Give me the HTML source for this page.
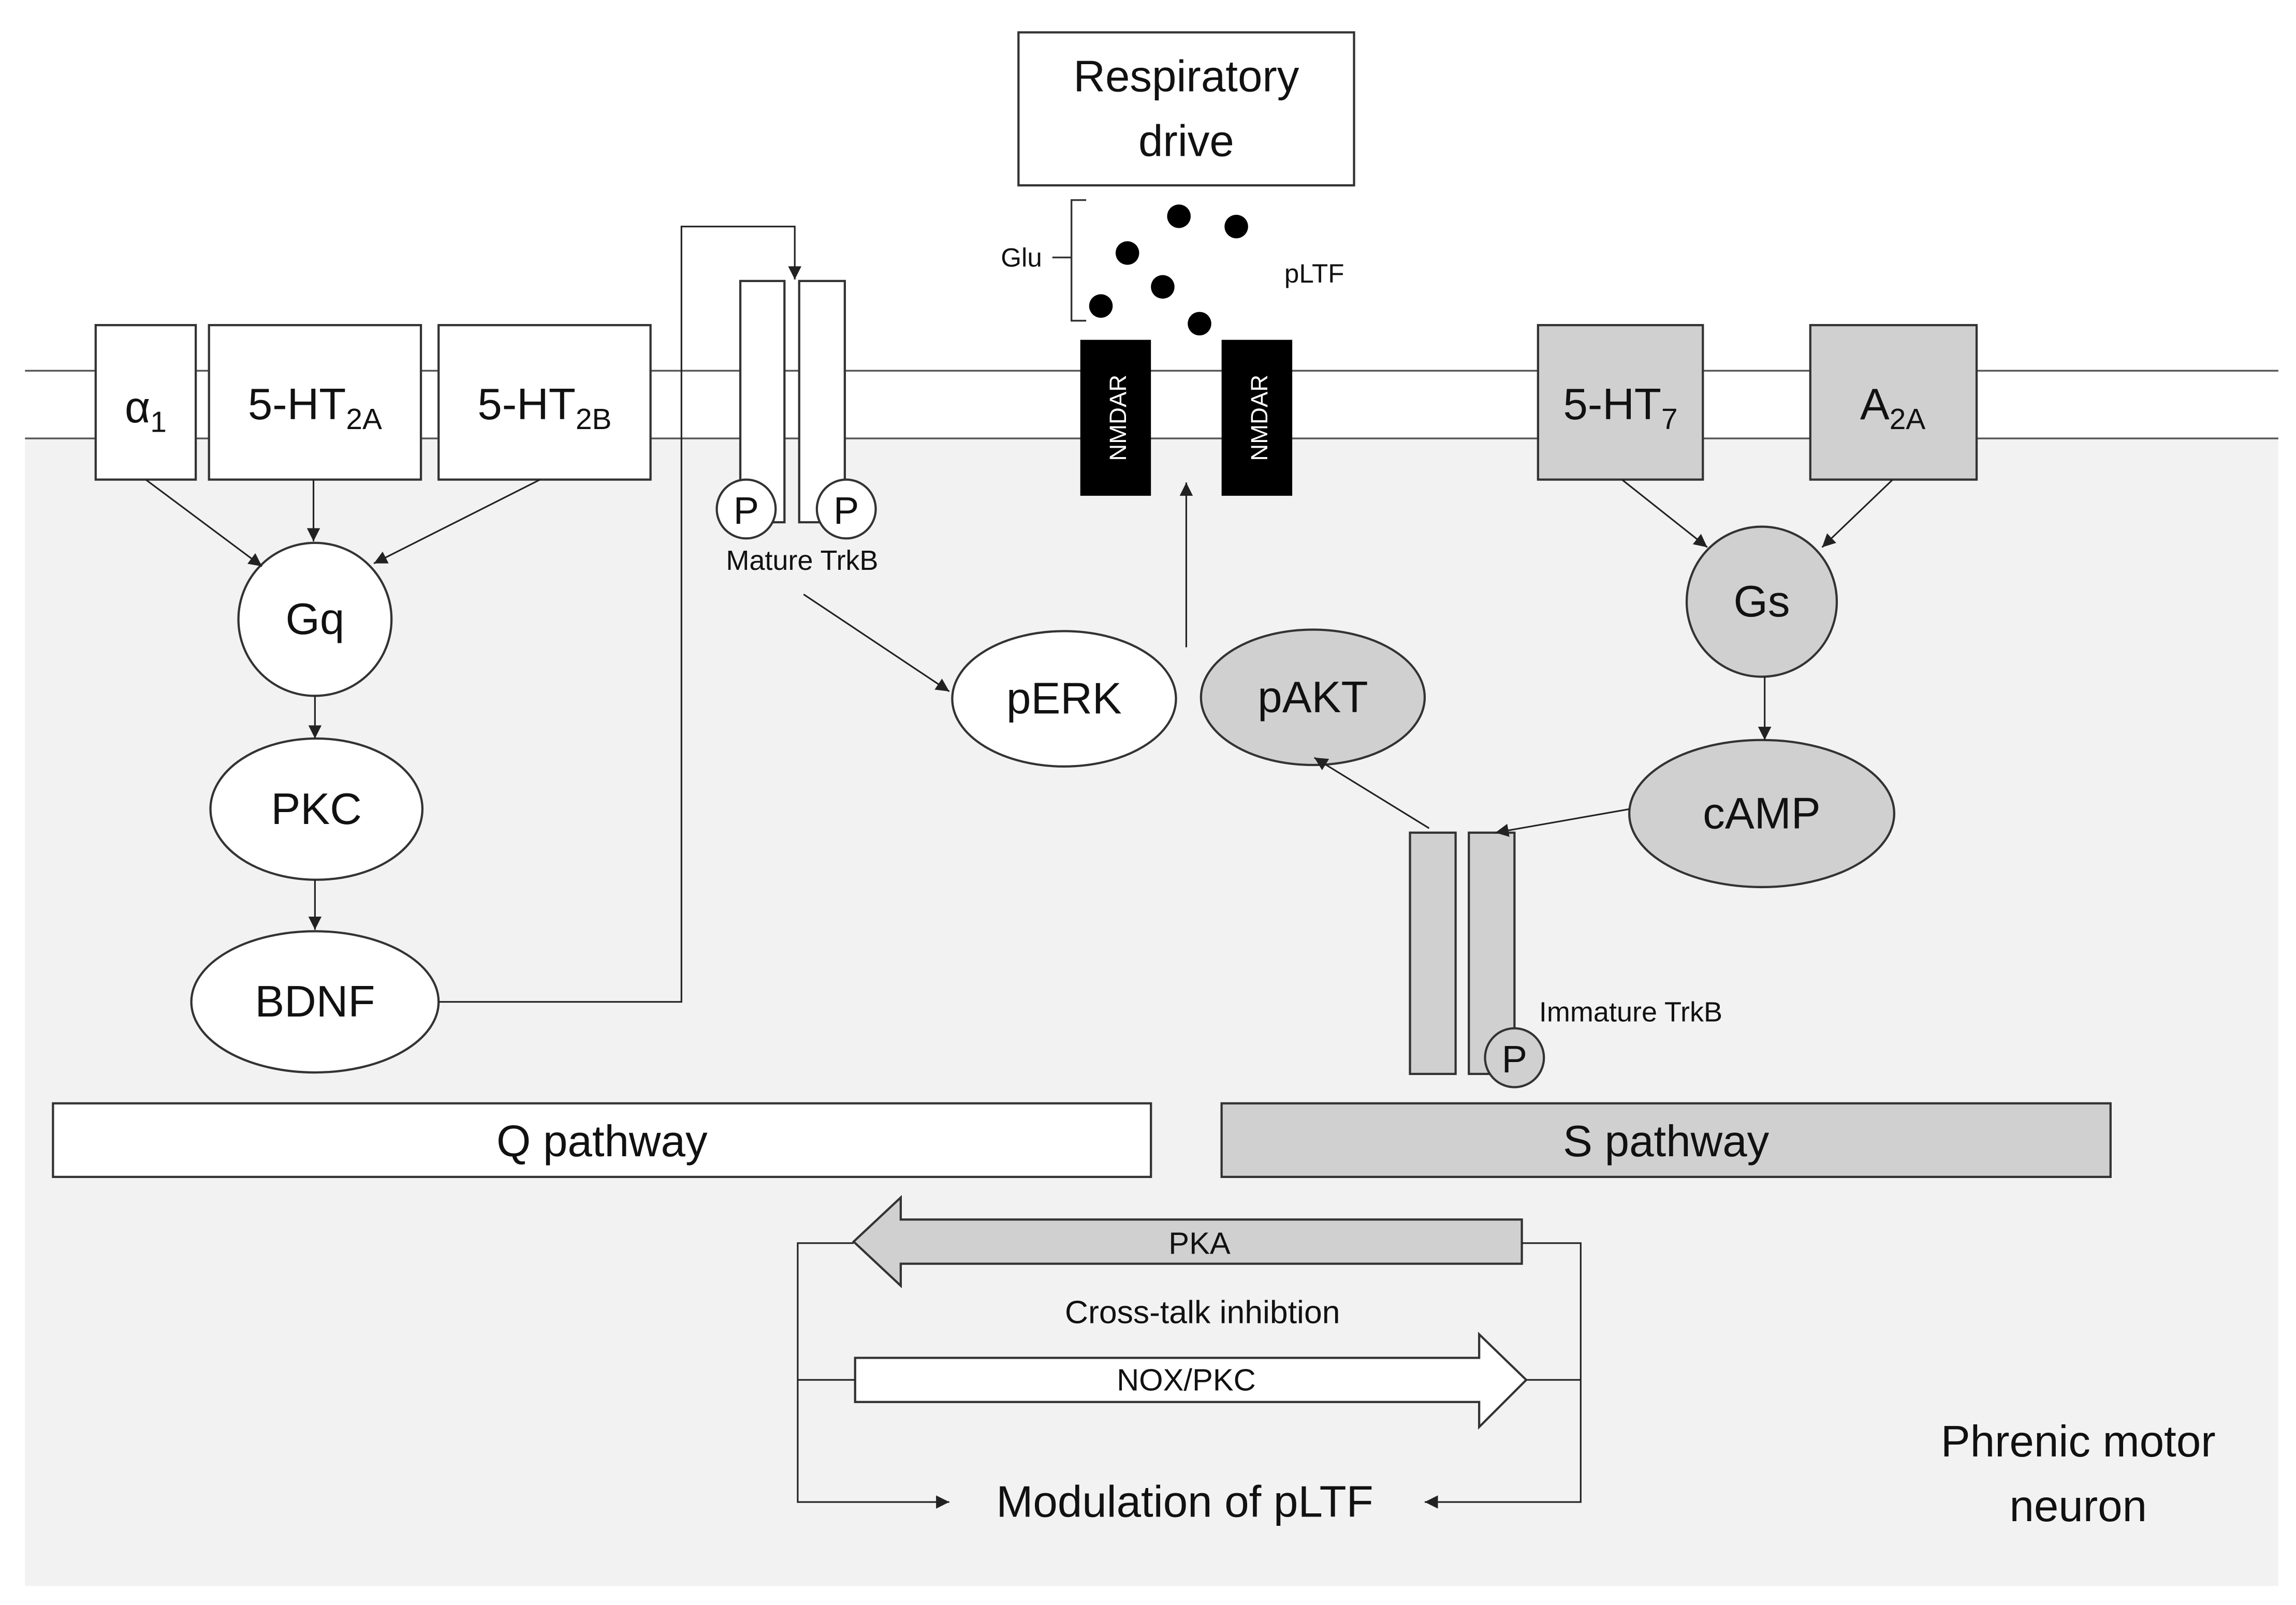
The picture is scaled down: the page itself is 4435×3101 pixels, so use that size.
<!DOCTYPE html>
<html><head><meta charset="utf-8"><style>html,body{margin:0;padding:0;background:#fff}svg{display:block}</style></head>
<body>
<svg width="4435" height="3101" viewBox="0 0 1560 1091" preserveAspectRatio="none" xmlns="http://www.w3.org/2000/svg" font-family="Liberation Sans, sans-serif">
<defs>
<marker id="a" viewBox="0 0 10 10" refX="10" refY="5" markerWidth="9" markerHeight="9" markerUnits="userSpaceOnUse" orient="auto"><path d="M0,0 L10,5 L0,10 z" fill="#222"/></marker>
</defs>
<rect x="0" y="0" width="1560" height="1091" fill="#fff"/>
<rect x="17" y="298" width="1531" height="780" fill="#f2f2f2"/>
<line x1="17" y1="252" x2="1548" y2="252" stroke="#555" stroke-width="1.2"/>
<line x1="17" y1="298" x2="1548" y2="298" stroke="#555" stroke-width="1.2"/>
<g stroke="#333" stroke-width="1.5">
<rect x="65" y="221" width="68" height="105" fill="#fff"/>
<rect x="142" y="221" width="144" height="105" fill="#fff"/>
<rect x="298" y="221" width="144" height="105" fill="#fff"/>
<rect x="503" y="191" width="30" height="164" fill="#fff"/>
<rect x="543" y="191" width="31" height="164" fill="#fff"/>
<circle cx="507" cy="346" r="20" fill="#fff"/>
<circle cx="575" cy="346" r="20" fill="#fff"/>
<rect x="692" y="22" width="228" height="104" fill="#fff"/>
<rect x="1045" y="221" width="112" height="105" fill="#d0d0d0"/>
<rect x="1230" y="221" width="113" height="105" fill="#d0d0d0"/>
<circle cx="214" cy="421" r="52" fill="#fff"/>
<ellipse cx="215" cy="550" rx="72" ry="48" fill="#fff"/>
<ellipse cx="214" cy="681" rx="84" ry="48" fill="#fff"/>
<ellipse cx="723" cy="475" rx="76" ry="46" fill="#fff"/>
<ellipse cx="892" cy="474" rx="76" ry="46" fill="#d0d0d0"/>
<circle cx="1197" cy="409" r="51" fill="#d0d0d0"/>
<ellipse cx="1197" cy="553" rx="90" ry="50" fill="#d0d0d0"/>
<rect x="958" y="566" width="31" height="164" fill="#d0d0d0"/>
<rect x="998" y="566" width="31" height="164" fill="#d0d0d0"/>
<circle cx="1029" cy="719" r="20" fill="#d0d0d0"/>
<rect x="36" y="750" width="746" height="50" fill="#fff"/>
<rect x="830" y="750" width="604" height="50" fill="#d0d0d0"/>
<path d="M580,844 L612,814 L612,829 L1034,829 L1034,859 L612,859 L612,874 Z" fill="#d0d0d0"/>
<path d="M1037,938 L1005,907 L1005,923 L581,923 L581,953 L1005,953 L1005,970 Z" fill="#fff"/>
</g>
<rect x="734" y="231" width="48" height="106" fill="#000"/>
<rect x="830" y="231" width="48" height="106" fill="#000"/>
<text transform="translate(765,284) rotate(-90)" fill="#fff" font-size="16" text-anchor="middle">NMDAR</text>
<text transform="translate(861,284) rotate(-90)" fill="#fff" font-size="16" text-anchor="middle">NMDAR</text>
<g fill="#000">
<circle cx="801" cy="147" r="8"/><circle cx="840" cy="154" r="8"/><circle cx="766" cy="172" r="8"/>
<circle cx="790" cy="195" r="8"/><circle cx="748" cy="208" r="8"/><circle cx="815" cy="220" r="8"/>
</g>
<path d="M738,136 L728,136 L728,218 L738,218 M715,175 L728,175" fill="none" stroke="#333" stroke-width="1.2"/>
<g stroke="#222" stroke-width="1.1" fill="none" marker-end="url(#a)">
<line x1="99" y1="326" x2="178" y2="385"/>
<line x1="213" y1="326" x2="213" y2="368"/>
<line x1="367" y1="326" x2="254" y2="383"/>
<line x1="214" y1="473" x2="214" y2="502"/>
<line x1="214" y1="598" x2="214" y2="632"/>
<polyline points="298,681 463,681 463,154 540,154 540,190"/>
<line x1="546" y1="404" x2="645" y2="470"/>
<line x1="806" y1="440" x2="806" y2="328"/>
<line x1="1102" y1="326" x2="1160" y2="372"/>
<line x1="1286" y1="326" x2="1238" y2="372"/>
<line x1="1199" y1="460" x2="1199" y2="503"/>
<line x1="1107" y1="550" x2="1016" y2="566"/>
<line x1="971" y1="563" x2="893" y2="515"/>
<polyline points="580,845 542,845 542,1021 645,1021"/>
<polyline points="1034,845 1074,845 1074,1021 968,1021"/>
</g>
<g stroke="#222" stroke-width="1.1">
<line x1="542" y1="938" x2="581" y2="938"/>
<line x1="1037" y1="938" x2="1074" y2="938"/>
</g>
<g fill="#111" text-anchor="middle" dominant-baseline="central">
<text x="99" y="277" font-size="30">α<tspan font-size="20" dy="10">1</tspan></text>
<text x="214" y="275" font-size="30">5-HT<tspan font-size="20" dy="10">2A</tspan></text>
<text x="370" y="275" font-size="30">5-HT<tspan font-size="20" dy="10">2B</tspan></text>
<text x="1101" y="275" font-size="30">5-HT<tspan font-size="20" dy="10">7</tspan></text>
<text x="1286" y="275" font-size="30">A<tspan font-size="20" dy="10">2A</tspan></text>
<text x="507" y="347" font-size="26">P</text>
<text x="575" y="347" font-size="26">P</text>
<text x="1029" y="720" font-size="26">P</text>
<text x="545" y="381" font-size="19">Mature TrkB</text>
<text x="1108" y="688" font-size="19">Immature TrkB</text>
<text x="806" y="52" font-size="30">Respiratory</text>
<text x="806" y="96" font-size="30">drive</text>
<text x="694" y="175" font-size="18">Glu</text>
<text x="893" y="186" font-size="18">pLTF</text>
<text x="214" y="421" font-size="30">Gq</text>
<text x="215" y="550" font-size="30">PKC</text>
<text x="214" y="681" font-size="30">BDNF</text>
<text x="723" y="475" font-size="30">pERK</text>
<text x="892" y="474" font-size="30">pAKT</text>
<text x="1197" y="409" font-size="30">Gs</text>
<text x="1197" y="553" font-size="30">cAMP</text>
<text x="409" y="776" font-size="30">Q pathway</text>
<text x="1132" y="776" font-size="30">S pathway</text>
<text x="815" y="845" font-size="21">PKA</text>
<text x="817" y="892" font-size="22">Cross-talk inhibtion</text>
<text x="806" y="938" font-size="21">NOX/PKC</text>
<text x="805" y="1021" font-size="30">Modulation of pLTF</text>
<text x="1412" y="980" font-size="30">Phrenic motor</text>
<text x="1412" y="1024" font-size="30">neuron</text>
</g>
</svg>
</body></html>
